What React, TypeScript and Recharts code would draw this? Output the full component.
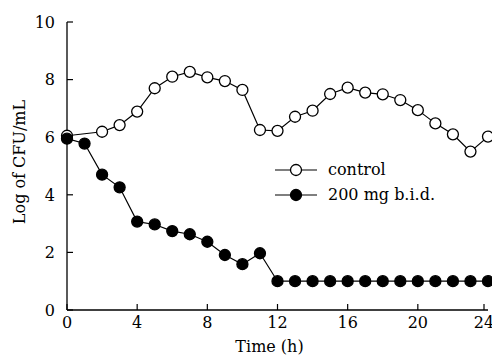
import React from 'react';
import { LineChart, Line, XAxis, YAxis } from 'recharts';

const hours = [0, 1, 2, 3, 4, 5, 6, 7, 8, 9, 10, 11, 12, 13, 14, 15, 16, 17, 18, 19, 20, 21, 22, 23, 24];
const control = [6.05, null, 6.19, 6.42, 6.89, 7.7, 8.1, 8.27, 8.08, 7.95, 7.64, 6.25, 6.22, 6.71, 6.92, 7.5, 7.72, 7.55, 7.49, 7.29, 6.94, 6.48, 6.1, 5.5, 6.02];
const treated = [5.95, 5.78, 4.7, 4.26, 3.07, 2.97, 2.74, 2.63, 2.37, 1.91, 1.59, 1.97, 1.0, 1.0, 1.0, 1.0, 1.0, 1.0, 1.0, 1.0, 1.0, 1.0, 1.0, 1.0, 1.0];
const xTicks = [0, 4, 8, 12, 16, 20, 24];
const yTicks = [0, 2, 4, 6, 8, 10];
const seriesNames = ['control', '200 mg b.i.d.'];

const data = hours.map((h, i) => ({ time: h, control: control[i], treated: treated[i] }));

const FONT = '"DejaVu Serif", serif';

const XTick = (props: any) => {
    const { x, y, payload } = props;
    const axisY = y - 7;
    return (
        <g>
            <line x1={x} x2={x} y1={axisY} y2={axisY - 6} stroke="#000" strokeWidth={1.2} />
            <text x={x} y={y} dy="0.71em" textAnchor="middle" fontFamily={FONT} fontSize={16} fill="#000">
                {payload.value}
            </text>
        </g>
    );
};

const YTick = (props: any) => {
    const { x, y, payload } = props;
    const axisX = x + 12;
    return (
        <g>
            <line x1={axisX} x2={axisX + 6} y1={y} y2={y} stroke="#000" strokeWidth={1.2} />
            <text x={x} y={y} dy="0.36em" textAnchor="end" fontFamily={FONT} fontSize={16} fill="#000">
                {payload.value}
            </text>
        </g>
    );
};

// legend drawn as an overlay; the chart's own Legend would steal plot space
const LegendBox = () => (
    <svg width={180} height={50} style={{ position: 'absolute', left: 270, top: 160 }}>
        {seriesNames.map((name, i) => (
            <g key={name} transform={`translate(0, ${10 + i * 25})`}>
                <line x1={5} x2={47} y1={0} y2={0} stroke="#000" strokeWidth={1.2} />
                <circle cx={26} cy={0} r={5.5} stroke="#000" strokeWidth={1.3} fill={i === 0 ? '#fff' : '#000'} />
                <text x={58} y={0} dy="0.32em" fontFamily={FONT} fontSize={16} fill="#000">{name}</text>
            </g>
        ))}
    </svg>
);

export default function App() {
    return (
        <div style={{ position: 'absolute', left: 0, top: 0, width: 492, height: 356, background: '#fff' }}>
            <LineChart width={492} height={356} data={data} margin={{ top: 22, right: 4, left: 0, bottom: 6 }}>
                <XAxis
                    dataKey="time"
                    type="number"
                    domain={[0, 24]}
                    ticks={xTicks}
                    height={40}
                    tickSize={0}
                    tickMargin={7}
                    tick={<XTick />}
                    axisLine={{ stroke: '#000', strokeWidth: 1.3 }}
                    label={{ value: 'Time (h)', position: 'insideBottom', offset: -2, dx: -8, fontFamily: FONT, fontSize: 16, fill: '#000' }}
                />
                <XAxis xAxisId="top" orientation="top" dataKey="time" type="number" domain={[0, 24]} height={0} tick={false} tickLine={false} axisLine={{ stroke: '#000', strokeWidth: 1.2 }} />
                <YAxis
                    type="number"
                    domain={[0, 10]}
                    ticks={yTicks}
                    width={67}
                    tickSize={0}
                    tickMargin={12}
                    tick={<YTick />}
                    axisLine={{ stroke: '#000', strokeWidth: 1.3 }}
                    label={{ value: 'Log of CFU/mL', angle: -90, position: 'insideLeft', offset: 19, dy: -4, style: { textAnchor: 'middle' }, fontFamily: FONT, fontSize: 16, fill: '#000' }}
                />
                <YAxis yAxisId="right" orientation="right" type="number" domain={[0, 10]} width={0} tick={false} tickLine={false} axisLine={{ stroke: '#000', strokeWidth: 1.2 }} />
                <Line
                    dataKey="control"
                    name="control"
                    stroke="#000"
                    strokeWidth={1.2}
                    connectNulls
                    dot={{ r: 5.5, fill: '#fff', stroke: '#000', strokeWidth: 1.3 }}
                    isAnimationActive={false}
                />
                <Line
                    dataKey="treated"
                    name="200 mg b.i.d."
                    stroke="#000"
                    strokeWidth={1.2}
                    dot={{ r: 5.5, fill: '#000', stroke: '#000', strokeWidth: 1.3 }}
                    isAnimationActive={false}
                />
            </LineChart>
            <LegendBox />
        </div>
    );
}
